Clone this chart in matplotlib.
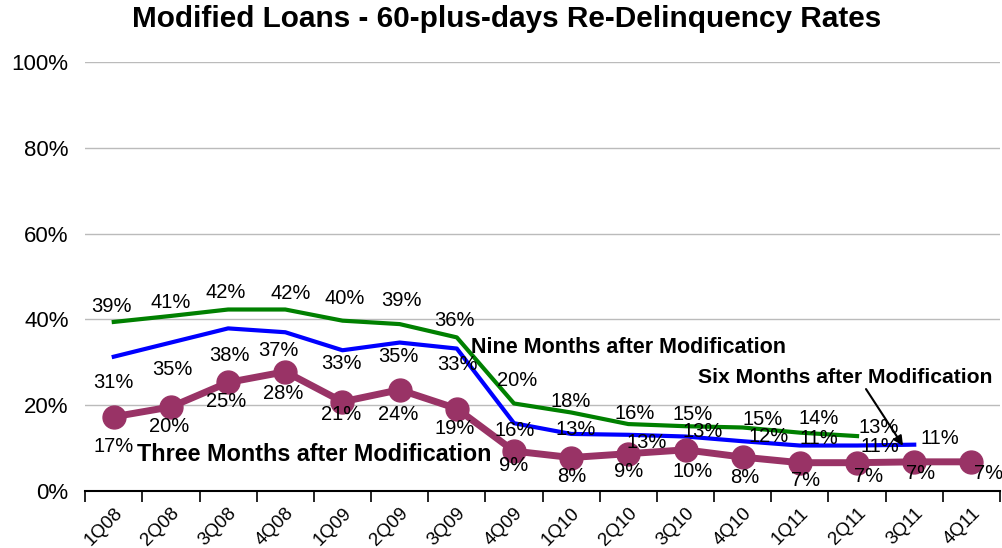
import matplotlib
matplotlib.use("Agg")
import matplotlib.pyplot as plt

plt.rcParams['font.family'] = ['Liberation Sans', 'DejaVu Sans']

# data (percent)
trimestres = ['1Q08', '2Q08', '3Q08', '4Q08', '1Q09', '2Q09', '3Q09', '4Q09',
              '1Q10', '2Q10', '3Q10', '4Q10', '1Q11', '2Q11', '3Q11', '4Q11']
tres_meses = [17.3, 19.6, 25.3, 27.8, 20.8, 23.6, 19.2, 9.3, 7.8, 8.7, 9.6, 7.9,
              6.6, 6.6, 6.8, 6.8]
seis_meses = [31.3, 34.6, 37.9, 37.0, 32.8, 34.6, 33.2, 15.8, 13.3, 13.1, 12.7, 11.6,
              10.6, 10.6, 10.8]
nueve_meses = [39.4, 40.8, 42.3, 42.3, 39.7, 38.9, 35.8, 20.4, 18.3, 15.6, 15.1, 14.8,
               13.6, 12.8]

# desplazamiento de las etiquetas (pixeles, +y hacia arriba)
desp_nueve = [(-2, 15), (0, 13), (-2, 17), (5, 16), (2, 22), (2, 24), (-2, 17),
              (3, 23), (0, 11), (6, 11), (7, 12), (20, 8), (19, 14), (22, 9)]
desp_seis = [(0, -26), (1, -27), (1, -27), (-7, -18), (-1, -13), (-1, -14), (1, -16),
             (1, -7), (5, 4), (18, -8), (17, 5), (26, 5), (19, 7), (23, -1), (26, 6)]
desp_tres = [(0, -30), (-2, -20), (-2, -19), (-2, -22), (-1, -13), (-1, -25), (-2, -20),
             (0, -14), (1, -19), (0, -18), (7, -22), (2, -20), (6, -18), (12, -14),
             (6, -12), (17, -12)]

fig = plt.figure(figsize=(10.02, 5.48), dpi=100)
ax = fig.add_axes([0.085, 0.104, 0.913, 0.783])

x3 = list(range(len(tres_meses)))
x6 = list(range(len(seis_meses)))
x9 = list(range(len(nueve_meses)))

ax.plot(x9, nueve_meses, color='#008000', lw=3, zorder=3)
ax.plot(x6, seis_meses, color='#0000FF', lw=3, zorder=3)
ax.plot(x3, tres_meses, color='#993366', lw=5, marker='o', ms=16.5, zorder=4)

def etiquetas(serie, desp):
    for i, v in enumerate(serie):
        ax.annotate(f'{v:.0f}%', (i, v), xytext=desp[i], textcoords='offset pixels',
                    ha='center', va='center', fontsize=14.5, zorder=5)

etiquetas(nueve_meses, desp_nueve)
etiquetas(seis_meses, desp_seis)
etiquetas(tres_meses, desp_tres)

ax.text(6.24, 33.4, 'Nine Months after Modification', fontsize=15.5, fontweight='bold',
        va='center', ha='left', zorder=6)
ax.text(10.22, 26.4, 'Six Months after Modification', fontsize=15.2, fontweight='bold',
        va='center', ha='left', zorder=6)
ax.annotate('', xy=(13.83, 10.0), xytext=(13.13, 24.3),
            arrowprops=dict(arrowstyle='-|>', color='black', lw=1.5,
                            mutation_scale=14), zorder=6)
ax.text(0.4, 8.6, 'Three Months after Modification', fontsize=16.8, fontweight='bold',
        va='center', ha='left', zorder=6)

ax.set_xlim(-0.5, len(trimestres) - 0.5)
ax.set_ylim(0, 100)
ax.set_yticks([0, 20, 40, 60, 80, 100])
ax.set_yticklabels([f'{t}%' for t in [0, 20, 40, 60, 80, 100]], fontsize=16)
ax.yaxis.grid(True, color='#BBBBBB', lw=1)
ax.set_axisbelow(True)
ax.tick_params(axis='y', length=0, pad=12)

ax.set_xticks([i + 0.5 for i in range(-1, len(trimestres))], minor=False)
ax.set_xticklabels([])
ax.set_xticks(range(len(trimestres)), minor=True)
ax.set_xticklabels(trimestres, minor=True, rotation=45, fontsize=13.5,
                   ha='right', va='top', rotation_mode='anchor')
ax.tick_params(axis='x', which='major', length=8, direction='out', width=1.2)
ax.tick_params(axis='x', which='minor', length=0, pad=10)

for s in ['top', 'right', 'left']:
    ax.spines[s].set_visible(False)
ax.spines['bottom'].set_linewidth(1.5)

fig.suptitle('Modified Loans - 60-plus-days Re-Delinquency Rates', fontsize=21.4,
             fontweight='bold', x=0.506, y=0.99)

fig.savefig('out.png', dpi=100)
